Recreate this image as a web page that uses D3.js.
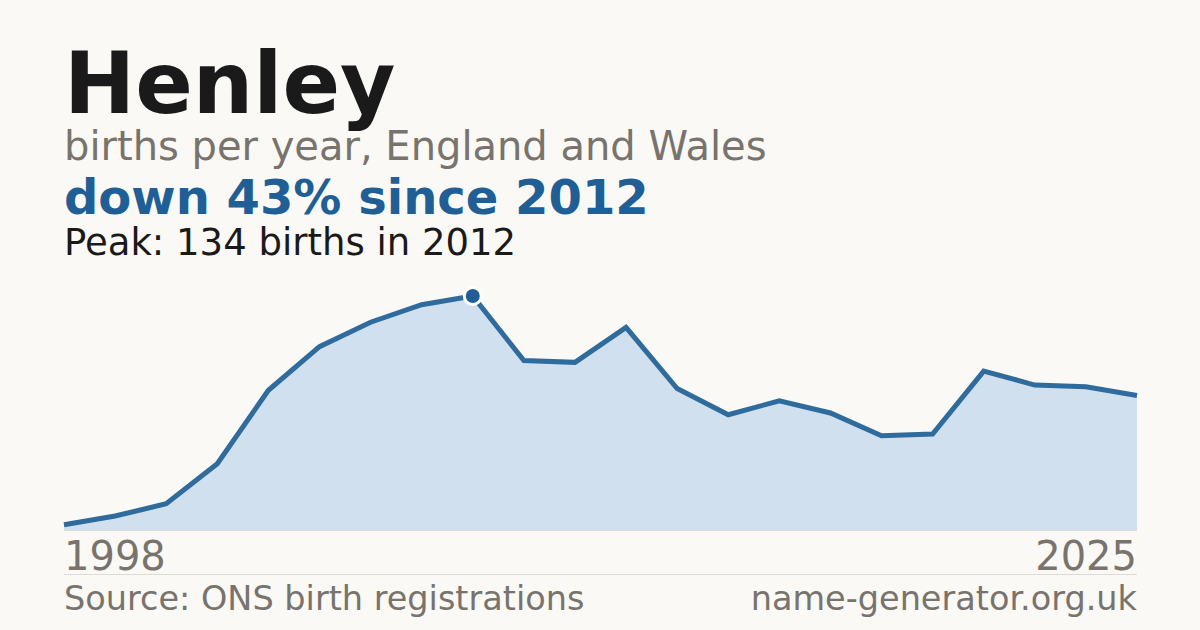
<!DOCTYPE html>
<html>
<head>
<meta charset="utf-8">
<script src="https://cdn.jsdelivr.net/npm/d3@7"></script>
<style>
  html, body { margin: 0; padding: 0; background: #faf9f5; }
  #chart { width: 1200px; height: 630px; }
</style>
</head>
<body>
<div id="chart"></div>
<script>
// births per year, Henley (one value per plotted year)
const births = [3, 8, 15, 38, 80, 105, 119, 129, 134, 97, 96, 116, 81, 66, 74, 67, 54, 55, 91, 83, 82, 77];
const axisLabels = ["1998", "2025"];
const peakIndex = 8;

const titulo = "Henley";
const subtitulo = "births per year, England and Wales";
const titular = "down 43% since 2012";
const nota = "Peak: 134 births in 2012";
const fuente = "Source: ONS birth registrations";
const sitio = "name-generator.org.uk";

const width = 1200;
const height = 630;
const margin = { left: 64, right: 63 };
const plotTop = 296;
const plotBottom = 530;
const fontFamily = "'DejaVu Sans', sans-serif";

const svg = d3
  .select("#chart")
  .append("svg")
  .attr("width", width)
  .attr("height", height)
  .style("background", "#faf9f5");

const x = d3
  .scaleLinear()
  .domain([0, births.length - 1])
  .range([margin.left, width - margin.right]);

const y = d3
  .scaleLinear()
  .domain([0, d3.max(births)])
  .range([plotBottom, plotTop]);

// area
const area = d3
  .area()
  .x((d, i) => x(i))
  .y0(y(0))
  .y1((d) => y(d));

svg.append("path").datum(births).attr("d", area).attr("fill", "#d0e0ef");

// baseline
svg
  .append("line")
  .attr("x1", x(0))
  .attr("x2", x(births.length - 1))
  .attr("y1", y(0) + 0.5)
  .attr("y2", y(0) + 0.5)
  .attr("stroke", "#dedbd5")
  .attr("stroke-width", 1);

// line
const line = d3
  .line()
  .x((d, i) => x(i))
  .y((d) => y(d));

svg
  .append("path")
  .datum(births)
  .attr("d", line)
  .attr("fill", "none")
  .attr("stroke", "#2f6b9d")
  .attr("stroke-width", 5)
  .attr("stroke-linejoin", "miter");

// peak marker
svg
  .append("circle")
  .attr("cx", x(peakIndex))
  .attr("cy", y(births[peakIndex]))
  .attr("r", 8.5)
  .attr("fill", "#1f5f96")
  .attr("stroke", "#ffffff")
  .attr("stroke-width", 3);

// texts
function texto(str, xPos, yPos, size, color, weight = "normal", anchor = "start") {
  svg
    .append("text")
    .attr("x", xPos)
    .attr("y", yPos)
    .attr("font-family", fontFamily)
    .attr("font-size", size)
    .attr("font-weight", weight)
    .attr("fill", color)
    .attr("text-anchor", anchor)
    .text(str);
}

texto(titulo, 64, 113, 85, "#1a1a1a", "bold");
texto(subtitulo, 64, 160, 40, "#78736c");
texto(titular, 64, 214, 48, "#1f5f96", "bold");
texto(nota, 64, 255, 37, "#1a1a1a");

// axis end labels
texto(axisLabels[0], x(0), 570, 40, "#78736c");
texto(axisLabels[1], x(births.length - 1), 570, 40, "#78736c", "normal", "end");

// separator
svg
  .append("line")
  .attr("x1", x(0))
  .attr("x2", x(births.length - 1))
  .attr("y1", 574.5)
  .attr("y2", 574.5)
  .attr("stroke", "#dedbd5")
  .attr("stroke-width", 1);

texto(fuente, 64, 610, 33.5, "#78736c");
texto(sitio, x(births.length - 1), 610, 33.5, "#78736c", "normal", "end");
</script>
</body>
</html>
